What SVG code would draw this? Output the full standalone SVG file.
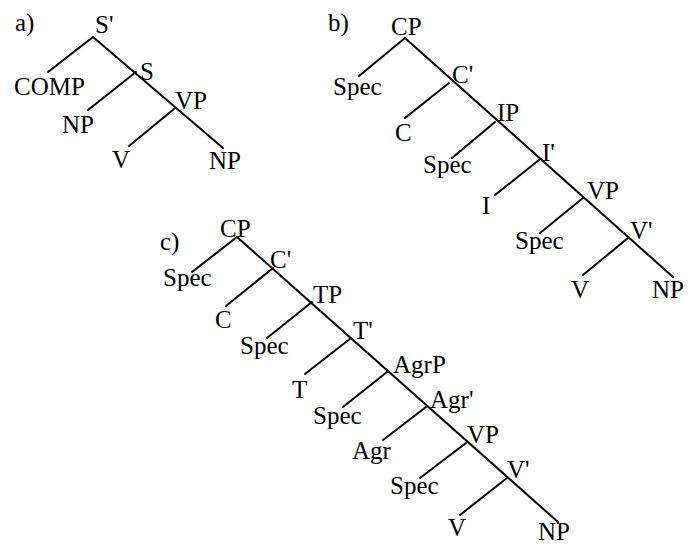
<svg xmlns="http://www.w3.org/2000/svg" width="698" height="545" viewBox="0 0 698 545">
  <style>
    .edge { stroke: #000; stroke-width: 2; fill: none; stroke-linecap: round; }
    .lbl { font-family: 'Liberation Serif', 'DejaVu Serif', 'Times New Roman', serif; font-size: 25px; fill: #000; }
  </style>
  <rect width="698" height="545" fill="#fff"/>

  <!-- Tree a): S' / S / VP -->
  <g id="tree-a" class="lbl">
    <g id="a-edges">
      <line class="edge" x1="93" y1="37" x2="223" y2="148"/>
      <line class="edge" x1="93" y1="37" x2="48" y2="72"/>
      <line class="edge" x1="136" y1="72" x2="88" y2="110"/>
      <line class="edge" x1="174" y1="109" x2="129" y2="146"/>
    </g>
    <g id="a-label"><text x="15" y="31">a)</text></g>
    <g id="a-Sbar"><text x="95" y="33">S'</text></g>
    <g id="a-COMP"><text x="14" y="95">COMP</text></g>
    <g id="a-S"><text x="140" y="80">S</text></g>
    <g id="a-NP1"><text x="62" y="133">NP</text></g>
    <g id="a-VP"><text x="175" y="109">VP</text></g>
    <g id="a-V"><text x="112" y="168">V</text></g>
    <g id="a-NP2"><text x="209" y="169">NP</text></g>
  </g>

  <!-- Tree b): CP / IP / VP -->
  <g id="tree-b" class="lbl">
    <g id="b-edges">
      <line class="edge" x1="405" y1="38" x2="673" y2="277"/>
      <line class="edge" x1="405" y1="38" x2="359" y2="76"/>
      <line class="edge" x1="449" y1="83" x2="405" y2="118"/>
      <line class="edge" x1="495" y1="122" x2="452" y2="158"/>
      <line class="edge" x1="539" y1="160" x2="495" y2="195"/>
      <line class="edge" x1="583" y1="198" x2="540" y2="233"/>
      <line class="edge" x1="628" y1="238" x2="583" y2="275"/>
    </g>
    <g id="b-label"><text x="328" y="31">b)</text></g>
    <g id="b-CP"><text x="391" y="35">CP</text></g>
    <g id="b-Spec1"><text x="333" y="95">Spec</text></g>
    <g id="b-Cbar"><text x="452" y="83">C'</text></g>
    <g id="b-C"><text x="395" y="141">C</text></g>
    <g id="b-IP"><text x="497" y="121">IP</text></g>
    <g id="b-Spec2"><text x="423" y="173">Spec</text></g>
    <g id="b-Ibar"><text x="542" y="161">I'</text></g>
    <g id="b-I"><text x="482" y="214">I</text></g>
    <g id="b-VP"><text x="587" y="199">VP</text></g>
    <g id="b-Spec3"><text x="515" y="249">Spec</text></g>
    <g id="b-Vbar"><text x="630" y="239">V'</text></g>
    <g id="b-V"><text x="571" y="298">V</text></g>
    <g id="b-NP"><text x="652" y="298">NP</text></g>
  </g>

  <!-- Tree c): CP / TP / AgrP / VP -->
  <g id="tree-c" class="lbl">
    <g id="c-edges">
      <line class="edge" x1="237" y1="237" x2="558" y2="522"/>
      <line class="edge" x1="237" y1="237" x2="192" y2="272"/>
      <line class="edge" x1="273" y1="268" x2="226" y2="306"/>
      <line class="edge" x1="312" y1="302" x2="267" y2="338"/>
      <line class="edge" x1="351" y1="338" x2="305" y2="374"/>
      <line class="edge" x1="387" y1="372" x2="343" y2="407"/>
      <line class="edge" x1="426" y1="407" x2="383" y2="440"/>
      <line class="edge" x1="466" y1="443" x2="420" y2="478"/>
      <line class="edge" x1="507" y1="478" x2="460" y2="515"/>
    </g>
    <g id="c-label"><text x="160" y="250">c)</text></g>
    <g id="c-CP"><text x="220" y="237">CP</text></g>
    <g id="c-Spec1"><text x="163" y="286">Spec</text></g>
    <g id="c-Cbar"><text x="270" y="268">C'</text></g>
    <g id="c-C"><text x="215" y="328">C</text></g>
    <g id="c-TP"><text x="313" y="303">TP</text></g>
    <g id="c-Spec2"><text x="240" y="354">Spec</text></g>
    <g id="c-Tbar"><text x="353" y="339">T'</text></g>
    <g id="c-T"><text x="292" y="398">T</text></g>
    <g id="c-AgrP"><text x="393" y="373">AgrP</text></g>
    <g id="c-Spec3"><text x="313" y="424">Spec</text></g>
    <g id="c-Agrbar"><text x="430" y="408">Agr'</text></g>
    <g id="c-Agr"><text x="352" y="459">Agr</text></g>
    <g id="c-VP"><text x="467" y="443">VP</text></g>
    <g id="c-Spec4"><text x="390" y="494">Spec</text></g>
    <g id="c-Vbar"><text x="507" y="478">V'</text></g>
    <g id="c-V"><text x="448" y="536">V</text></g>
    <g id="c-NP"><text x="538" y="540">NP</text></g>
  </g>
</svg>
